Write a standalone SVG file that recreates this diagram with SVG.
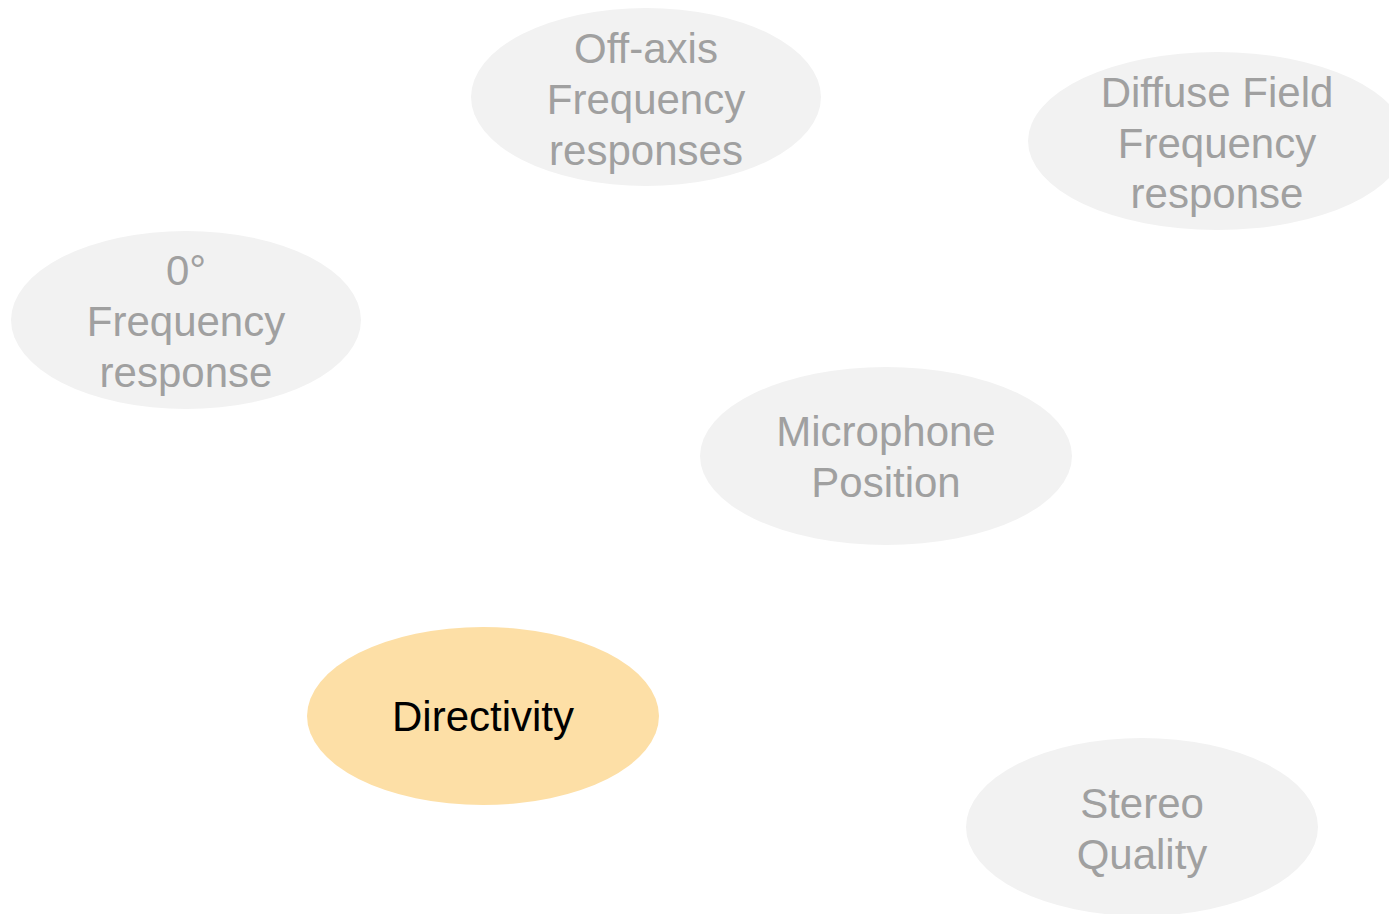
<svg xmlns="http://www.w3.org/2000/svg" width="1389" height="914" viewBox="0 0 1389 914">
  <style>
    .node ellipse { fill: #f2f2f2; }
    .node text { font-family: "Liberation Sans", Arial, sans-serif; font-size: 42px; fill: #a0a0a0; text-anchor: middle; }
    .node.focus ellipse { fill: #fddfa6; }
    .node.focus text { fill: #000000; }
  </style>
  <rect width="1389" height="914" fill="#ffffff"/>
  <g id="connectors"></g>
  <g id="off-axis" class="node">
    <ellipse cx="646" cy="97" rx="175" ry="89"/>
    <text x="646" y="63">Off-axis</text>
    <text x="646" y="114">Frequency</text>
    <text x="646" y="165">responses</text>
  </g>
  <g id="diffuse-field" class="node">
    <ellipse cx="1217" cy="141" rx="189" ry="89"/>
    <text x="1217" y="107">Diffuse Field</text>
    <text x="1217" y="158">Frequency</text>
    <text x="1217" y="208">response</text>
  </g>
  <g id="zero-degree" class="node">
    <ellipse cx="186" cy="320" rx="175" ry="89"/>
    <text x="186" y="285">0°</text>
    <text x="186" y="336">Frequency</text>
    <text x="186" y="387">response</text>
  </g>
  <g id="microphone-position" class="node">
    <ellipse cx="886" cy="456" rx="186" ry="89"/>
    <text x="886" y="446">Microphone</text>
    <text x="886" y="497">Position</text>
  </g>
  <g id="directivity" class="node focus">
    <ellipse cx="483" cy="716" rx="176" ry="89"/>
    <text x="483" y="731">Directivity</text>
  </g>
  <g id="stereo-quality" class="node">
    <ellipse cx="1142" cy="827" rx="176" ry="89"/>
    <text x="1142" y="818">Stereo</text>
    <text x="1142" y="869">Quality</text>
  </g>
</svg>
